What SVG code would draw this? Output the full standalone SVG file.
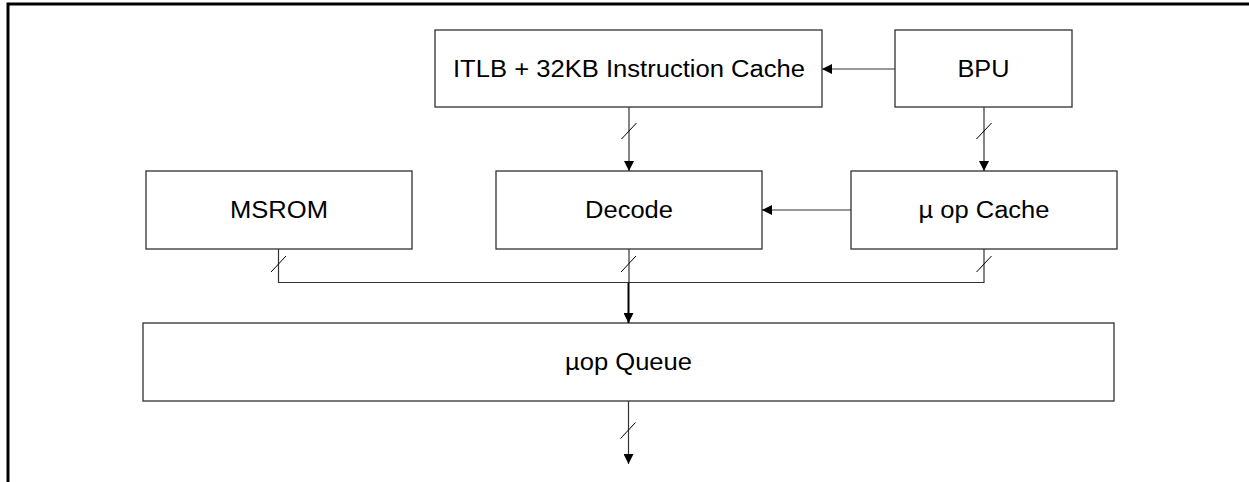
<svg xmlns="http://www.w3.org/2000/svg" width="1249" height="482" viewBox="0 0 1249 482">
<style>
.box{fill:#fff;stroke:#303030;stroke-width:1.3}
.lbl{font-family:"Liberation Sans",Arial,sans-serif;font-size:23px;fill:#000;text-anchor:middle}
.wire{fill:none;stroke:#333;stroke-width:1.2}
.slash{stroke:#000;stroke-width:1}
.main{stroke:#000;stroke-width:2}
</style>
<defs>
<marker id="ah" viewBox="0 0 10 10" refX="10" refY="5" markerWidth="10" markerHeight="10" markerUnits="userSpaceOnUse" orient="auto">
<path d="M0,0 L10,5 L0,10 Z" fill="#000"/>
</marker>
</defs>
<rect width="1249" height="482" fill="#fff"/>
<path d="M8,482 V4 H1249" fill="none" stroke="#000" stroke-width="3"/>

<g id="itlb"><rect class="box" x="435" y="30" width="387" height="77"/><text class="lbl" x="629" y="76.5" textLength="352" lengthAdjust="spacingAndGlyphs">ITLB + 32KB Instruction Cache</text></g>
<g id="bpu"><rect class="box" x="895" y="30" width="177" height="77"/><text class="lbl" x="983.5" y="76.5" textLength="52" lengthAdjust="spacingAndGlyphs">BPU</text></g>
<g id="msrom"><rect class="box" x="146" y="171" width="266" height="78"/><text class="lbl" x="279" y="218" textLength="98" lengthAdjust="spacingAndGlyphs">MSROM</text></g>
<g id="decode"><rect class="box" x="496" y="171" width="266" height="78"/><text class="lbl" x="629" y="218" textLength="88" lengthAdjust="spacingAndGlyphs">Decode</text></g>
<g id="uopcache"><rect class="box" x="851" y="171" width="266" height="78"/><text class="lbl" x="984" y="218" textLength="131" lengthAdjust="spacingAndGlyphs">µ op Cache</text></g>
<g id="uopqueue"><rect class="box" x="143" y="323" width="971" height="78"/><text class="lbl" x="628.5" y="370" textLength="127" lengthAdjust="spacingAndGlyphs">µop Queue</text></g>

<g id="connectors">
<line class="wire" x1="895" y1="69" x2="822" y2="69" marker-end="url(#ah)"/>
<line class="wire" x1="629" y1="107" x2="629" y2="171" marker-end="url(#ah)"/>
<line class="slash" x1="621.5" y1="139" x2="636.5" y2="123"/>
<line class="wire" x1="984" y1="107" x2="984" y2="171" marker-end="url(#ah)"/>
<line class="slash" x1="976.5" y1="139" x2="991.5" y2="123"/>
<line class="wire" x1="851" y1="210" x2="762" y2="210" marker-end="url(#ah)"/>
<path class="wire" d="M278.5,249 V282.5 H984 V249"/>
<line class="wire" x1="629" y1="249" x2="629" y2="282.5"/>
<line class="slash" x1="271" y1="272" x2="286" y2="256"/>
<line class="slash" x1="621" y1="272" x2="636" y2="256"/>
<line class="slash" x1="976.5" y1="272" x2="991.5" y2="256"/>
<line class="main" x1="628.5" y1="282.5" x2="628.5" y2="323" marker-end="url(#ah)"/>
<line class="wire" x1="628.5" y1="401" x2="628.5" y2="464" marker-end="url(#ah)"/>
<line class="slash" x1="620.5" y1="438.5" x2="635.5" y2="422.5"/>
</g>
</svg>
